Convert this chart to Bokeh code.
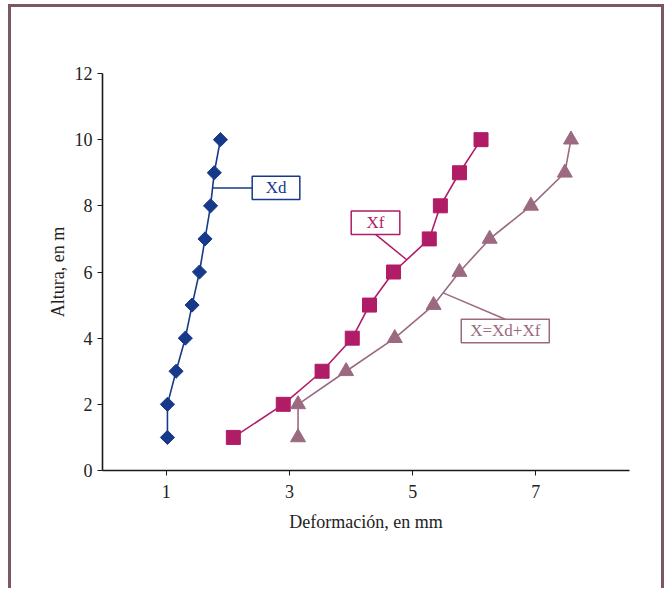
from bokeh.plotting import figure
from bokeh.models import Range1d, FixedTicker
from bokeh.core.properties import value
from bokeh.embed import file_html
from bokeh.resources import INLINE
import math

# ---- data ----
altura = [1, 2, 3, 4, 5, 6, 7, 8, 9, 10]
xd = [1.02, 1.02, 1.16, 1.31, 1.42, 1.54, 1.63, 1.72, 1.78, 1.88]
xf = [2.09, 2.90, 3.53, 4.02, 4.30, 4.69, 5.27, 5.45, 5.76, 6.11]
xt = [3.14, 3.14, 3.92, 4.71, 5.34, 5.76, 6.25, 6.92, 7.47, 7.57]
x_ticks = [1, 3, 5, 7]
y_ticks = [0, 2, 4, 6, 8, 10, 12]
series_names = ["Xd", "Xf", "X=Xd+Xf"]

C_XD = "#17398A"
C_XF = "#B01C66"
C_XT = "#9B6A80"
C_FRAME = "#7C5567"
FONT = "Liberation Serif"

p = figure(width=656, height=584, output_backend="svg", toolbar_location=None,
           x_range=Range1d(-0.034, 8.52), y_range=Range1d(0, 12),
           min_border_left=91, min_border_right=38, min_border_top=66,
           min_border_bottom=121)
p.styles = {"margin-left": "8px", "margin-top": "4px",
            "border-top": f"3px solid {C_FRAME}",
            "border-left": f"3px solid {C_FRAME}",
            "border-right": f"3px solid {C_FRAME}"}
p.background_fill_color = "white"
p.border_fill_color = "white"
p.outline_line_color = None
p.xgrid.visible = False
p.ygrid.visible = False

for ax in (p.xaxis[0], p.yaxis[0]):
    ax.axis_line_color = "#1a1a1a"
    ax.axis_line_width = 1.6
    ax.major_tick_line_color = "#1a1a1a"
    ax.major_tick_in = 0
    ax.major_tick_out = 5
    ax.minor_tick_in = 0
    ax.minor_tick_out = 0
    ax.major_label_text_font = FONT
    ax.major_label_text_font_size = "18px"
    ax.major_label_text_color = "#222222"
    ax.axis_label_text_font = FONT
    ax.axis_label_text_font_size = "18px"
    ax.axis_label_text_font_style = "normal"
    ax.axis_label_text_color = "#222222"

p.xaxis.ticker = FixedTicker(ticks=x_ticks)
p.yaxis.ticker = FixedTicker(ticks=y_ticks)
p.xaxis.axis_label = "Deformación, en mm"
p.yaxis.axis_label = "Altura, en m"
p.xaxis.major_label_standoff = 9
p.xaxis.axis_label_standoff = 11
p.yaxis.major_label_standoff = 5
p.yaxis.axis_label_standoff = 4

# ---- series ----
p.line(xd, altura, line_color=C_XD, line_width=1.6)
p.scatter(xd, altura, marker="square", size=10, angle=math.pi / 4,
          fill_color=C_XD, line_color=C_XD)

p.line(xf, altura, line_color=C_XF, line_width=1.6)
p.scatter(xf, altura, marker="square", size=14, fill_color=C_XF, line_color=C_XF)

p.line(xt, altura, line_color=C_XT, line_width=1.6)
p.scatter(xt, altura, marker="triangle", size=15, fill_color=C_XT, line_color=C_XT)

# ---- call-out labels (anchors on series segments) ----
def anchor(xs, ys, i, t):
    return xs[i] + t * (xs[i + 1] - xs[i]), ys[i] + t * (ys[i + 1] - ys[i])

callouts = [
    (xd, C_XD, 7, 0.54, (2.396, 3.169, 8.188, 8.894), "left"),
    (xf, C_XF, 5, 0.37, (4.003, 4.792, 7.136, 7.842), "bottom"),
    (xt, C_XT, 4, 0.37, (5.789, 7.218, 3.864, 4.570), "top"),
]
for name, (xs, col, seg, t, box, side) in zip(series_names, callouts):
    ax_, ay_ = anchor(xs, altura, seg, t)
    l, r, b, tp = box
    if side == "left":
        ex, ey = l, ay_
    elif side == "bottom":
        ex, ey = (l + r) / 2, b
    else:
        ex, ey = (l + r) / 2, tp
    p.line([ax_, ex], [ay_, ey], line_color=col, line_width=1.5)
    p.quad(left=[l], right=[r], bottom=[b], top=[tp], fill_color="white",
           line_color=col, line_width=1.5)
    p.text(x=[(l + r) / 2], y=[(b + tp) / 2], text=[name], text_color=col,
           text_font=value(FONT), text_font_size="17px",
           text_align="center", text_baseline="middle")

open("out.html", "w").write(file_html(p, INLINE))
